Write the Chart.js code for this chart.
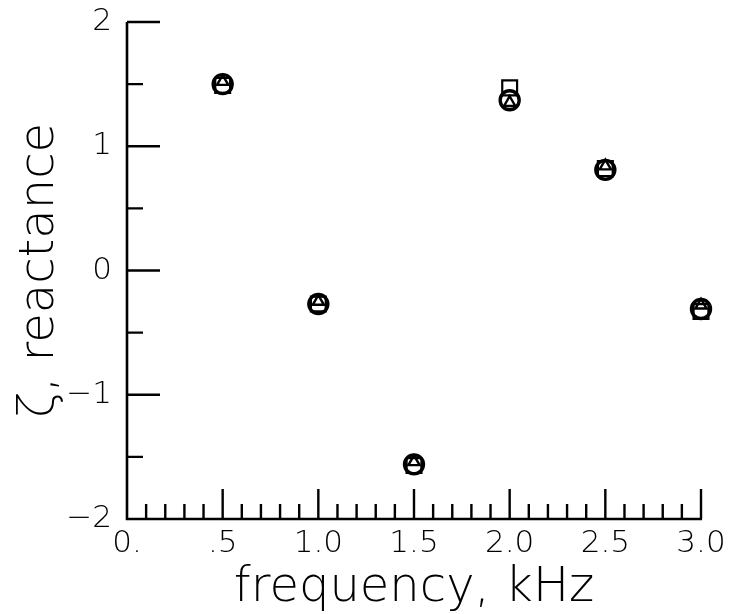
<!DOCTYPE html>
<html>
<head>
<meta charset="utf-8">
<script src="https://cdn.jsdelivr.net/npm/chart.js@4/dist/chart.umd.min.js"></script>
<style>
html,body{margin:0;padding:0;background:#fff;}
canvas{display:block;}
</style>
</head>
<body>
<canvas id="c" width="733" height="614"></canvas>
<script>
// ---- data ----
const frequencyKHz   = [0.5, 1.0, 1.5, 2.0, 2.5, 3.0];
const circleSeries   = [1.50, -0.27, -1.56, 1.37, 0.81, -0.31];
const triangleSeries = [1.52, -0.25, -1.54, 1.35, 0.84, -0.28];
const squareSeries   = [1.49, -0.27, -1.57, 1.47, 0.82, -0.33];

const xTickValues = [0, 0.5, 1.0, 1.5, 2.0, 2.5, 3.0];
const xTickLabels = ['0.', '.5', '1.0', '1.5', '2.0', '2.5', '3.0'];
const yTickValues = [-2, -1, 0, 1, 2];
const yTickLabels = ['\u22122', '\u22121', '0', '1', '2'];
const xMin = 0, xMax = 3, yMin = -2, yMax = 2;

const FONT = "'DejaVu Sans', 'Liberation Sans', sans-serif";

function pts(ys){ return frequencyKHz.map((f,i)=>({x:f, y:ys[i]})); }

const axesPlugin = {
  id: 'plotterAxes',
  beforeDatasetsDraw(chart){
    const {ctx, scales:{x, y}} = chart;
    const x0 = x.getPixelForValue(xMin), x1 = x.getPixelForValue(xMax);
    const yb = y.getPixelForValue(yMin), yt = y.getPixelForValue(yMax);
    ctx.save();
    ctx.strokeStyle = '#000';
    ctx.lineWidth = 2.6;
    ctx.lineCap = 'butt';
    ctx.beginPath();
    ctx.moveTo(x0, yt); ctx.lineTo(x0, yb); ctx.lineTo(x1 + 1, yb);
    ctx.stroke();
    ctx.lineWidth = 2.4;
    ctx.beginPath();
    // y ticks (inward, to the right)
    for (let v = yMin + 0.5; v <= yMax + 1e-9; v += 0.5){
      const p = y.getPixelForValue(v);
      const major = Math.abs(v - Math.round(v)) < 1e-6;
      ctx.moveTo(x0, p); ctx.lineTo(x0 + (major ? 33 : 16), p);
    }
    // x ticks (inward, upward)
    for (let k = 1; k <= 30; k++){
      const v = k / 10;
      const p = x.getPixelForValue(v);
      const major = k % 5 === 0;
      ctx.moveTo(p, yb); ctx.lineTo(p, yb - (major ? 30 : 15));
    }
    ctx.stroke();
    ctx.restore();
  }
};

new Chart(document.getElementById('c'), {
  type: 'scatter',
  data: {
    datasets: [
      { label: 'circle', data: pts(circleSeries), pointStyle: 'circle', pointRadius: 9.5,
        borderWidth: 3.4, borderColor: '#000', backgroundColor: 'rgba(0,0,0,0)', clip: false },
      { label: 'triangle', data: pts(triangleSeries), pointStyle: 'triangle', pointRadius: 6.5,
        borderWidth: 2.4, borderColor: '#000', backgroundColor: 'rgba(0,0,0,0)', clip: false },
      { label: 'square', data: pts(squareSeries), pointStyle: 'rect', pointRadius: 10.5,
        borderWidth: 2.2, borderColor: '#000', backgroundColor: 'rgba(0,0,0,0)', clip: false }
    ]
  },
  options: {
    responsive: false,
    animation: false,
    layout: { padding: { top: 22, right: 32, left: 0, bottom: 0 } },
    plugins: { legend: { display: false }, tooltip: { enabled: false } },
    scales: {
      x: {
        type: 'linear', min: xMin, max: xMax,
        afterFit(s){ s.height = 95; s.paddingLeft = 0; s.paddingRight = 0; },
        afterBuildTicks(s){ s.ticks = xTickValues.map(v => ({value: v})); },
        grid: { display: false, drawTicks: false },
        border: { display: false },
        ticks: {
          autoSkip: false, maxRotation: 0, padding: 6, color: '#000',
          font: { family: FONT, size: 31, weight: '200' },
          callback: (v) => { const i = xTickValues.indexOf(v); return i >= 0 ? xTickLabels[i] : ''; }
        },
        title: { display: true, text: 'frequency, kHz', color: '#000',
          font: { family: FONT, size: 48, weight: '200' }, padding: { top: 0, bottom: -3 } }
      },
      y: {
        type: 'linear', min: yMin, max: yMax,
        afterFit(s){ s.width = 127; s.paddingTop = 0; s.paddingBottom = 0; },
        afterBuildTicks(s){ s.ticks = yTickValues.map(v => ({value: v})); },
        grid: { display: false, drawTicks: false },
        border: { display: false },
        ticks: {
          autoSkip: false, padding: 15, color: '#000',
          font: { family: FONT, size: 31, weight: '200' },
          callback: (v) => { const i = yTickValues.indexOf(v); return i >= 0 ? yTickLabels[i] : ''; }
        },
        title: { display: true, text: '\u03B6, reactance', color: '#000',
          font: { family: FONT, size: 48, weight: '200' }, padding: { top: 12, bottom: 0 } }
      }
    }
  },
  plugins: [axesPlugin]
});
</script>
</body>
</html>
